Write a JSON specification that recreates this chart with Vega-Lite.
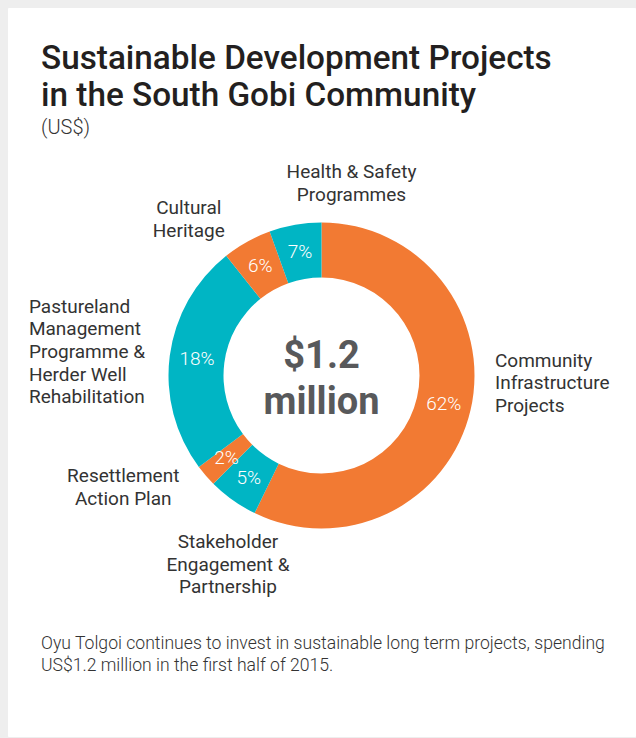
{
  "$schema": "https://vega.github.io/schema/vega-lite/v6.json",
  "background": "#eeeeee",
  "padding": {"left": 7, "top": 7, "right": 2, "bottom": 3},
  "spacing": 0,
  "bounds": "flush",
  "config": {"view": {"stroke": "#ffffff", "strokeWidth": 1, "fill": "#ffffff"}, "font": "Roboto", "concat": {"spacing": 0}},
  "vconcat": [
    {
      "width": 627,
      "height": 143,
      "view": {"fill": "#ffffff", "stroke": "#ffffff", "strokeWidth": 1},
      "data": {"values": []},
      "mark": "point",
      "title": {
        "text": ["Sustainable Development Projects", "in the South Gobi Community"],
        "subtitle": "(US$)",
        "anchor": "start",
        "frame": "group",
        "orient": "top",
        "offset": -131,
        "dx": 33,
        "font": "Roboto",
        "fontSize": 33.3,
        "fontWeight": 500,
        "color": "#231f20",
        "lineHeight": 37,
        "subtitleFont": "Roboto",
        "subtitleFontSize": 20,
        "subtitleFontWeight": 300,
        "subtitleColor": "#333333",
        "subtitlePadding": 5
      }
    },
    {
      "width": 627,
      "height": 449,
      "view": {"fill": "#ffffff", "stroke": "#ffffff", "strokeWidth": 1},
      "data": {
        "values": [
          {"idx": 1, "category": "Community Infrastructure Projects", "value": 57.2, "pct": "62%", "label": "Community\nInfrastructure\nProjects"},
          {"idx": 2, "category": "Stakeholder Engagement & Partnership", "value": 5.3, "pct": "5%", "label": "Stakeholder\nEngagement &\nPartnership"},
          {"idx": 3, "category": "Resettlement Action Plan", "value": 2.3, "pct": "2%", "label": "Resettlement\nAction Plan"},
          {"idx": 4, "category": "Pastureland Management Programme & Herder Well Rehabilitation", "value": 24.5, "pct": "18%", "label": "Pastureland\nManagement\nProgramme &\nHerder Well\nRehabilitation"},
          {"idx": 5, "category": "Cultural Heritage", "value": 5.2, "pct": "6%", "label": "Cultural\nHeritage"},
          {"idx": 6, "category": "Health & Safety Programmes", "value": 5.5, "pct": "7%", "label": "Health & Safety\nProgrammes"}
        ]
      },
      "layer": [
        {
          "mark": {"type": "arc", "outerRadius": 153, "innerRadius": 98},
          "encoding": {
            "theta": {"field": "value", "type": "quantitative", "stack": true},
            "order": {"field": "idx", "type": "quantitative"},
            "color": {
              "field": "category",
              "type": "nominal",
              "legend": null,
              "scale": {
                "domain": ["Community Infrastructure Projects", "Stakeholder Engagement & Partnership", "Resettlement Action Plan", "Pastureland Management Programme & Herder Well Rehabilitation", "Cultural Heritage", "Health & Safety Programmes"],
                "range": ["#f27a33", "#00b5c4", "#f27a33", "#00b5c4", "#f27a33", "#00b5c4"]
              }
            }
          }
        },
        {
          "mark": {"type": "text", "radius": 125.5, "fill": "#ffffff", "fontSize": 19, "fontWeight": 300, "baseline": "middle"},
          "encoding": {
            "theta": {"field": "value", "type": "quantitative", "stack": true},
            "order": {"field": "idx", "type": "quantitative"},
            "detail": {"field": "category", "type": "nominal"},
            "text": {"field": "pct", "type": "nominal"}
          }
        },
        {
          "mark": {"type": "text", "radius": 178, "align": "left", "baseline": "middle", "dx": 0, "dy": -54.6, "fontSize": 19, "fill": "#333333", "lineBreak": "\n", "lineHeight": 22.6},
          "encoding": {
            "theta": {"field": "value", "type": "quantitative", "stack": true},
            "order": {"field": "idx", "type": "quantitative"},
            "detail": {"field": "category", "type": "nominal"},
            "text": {"condition": {"test": "datum.idx === 1", "field": "label", "type": "nominal"}, "value": ""}
          }
        },
        {
          "mark": {"type": "text", "radius": 225, "align": "center", "baseline": "middle", "dx": 37, "dy": -16.6, "fontSize": 19, "fill": "#333333", "lineBreak": "\n", "lineHeight": 22.6},
          "encoding": {
            "theta": {"field": "value", "type": "quantitative", "stack": true},
            "order": {"field": "idx", "type": "quantitative"},
            "detail": {"field": "category", "type": "nominal"},
            "text": {"condition": {"test": "datum.idx === 2", "field": "label", "type": "nominal"}, "value": ""}
          }
        },
        {
          "mark": {"type": "text", "radius": 200, "align": "center", "baseline": "middle", "dx": -47, "dy": -30.3, "fontSize": 19, "fill": "#333333", "lineBreak": "\n", "lineHeight": 22.6},
          "encoding": {
            "theta": {"field": "value", "type": "quantitative", "stack": true},
            "order": {"field": "idx", "type": "quantitative"},
            "detail": {"field": "category", "type": "nominal"},
            "text": {"condition": {"test": "datum.idx === 3", "field": "label", "type": "nominal"}, "value": ""}
          }
        },
        {
          "mark": {"type": "text", "radius": 175, "align": "left", "baseline": "middle", "dx": -119, "dy": -46.2, "fontSize": 19, "fill": "#333333", "lineBreak": "\n", "lineHeight": 22.6},
          "encoding": {
            "theta": {"field": "value", "type": "quantitative", "stack": true},
            "order": {"field": "idx", "type": "quantitative"},
            "detail": {"field": "category", "type": "nominal"},
            "text": {"condition": {"test": "datum.idx === 4", "field": "label", "type": "nominal"}, "value": ""}
          }
        },
        {
          "mark": {"type": "text", "radius": 180, "align": "center", "baseline": "middle", "dx": -45, "dy": -10.3, "fontSize": 19, "fill": "#333333", "lineBreak": "\n", "lineHeight": 22.6},
          "encoding": {
            "theta": {"field": "value", "type": "quantitative", "stack": true},
            "order": {"field": "idx", "type": "quantitative"},
            "detail": {"field": "category", "type": "nominal"},
            "text": {"condition": {"test": "datum.idx === 5", "field": "label", "type": "nominal"}, "value": ""}
          }
        },
        {
          "mark": {"type": "text", "radius": 195, "align": "center", "baseline": "middle", "dx": 63.5, "dy": -11.3, "fontSize": 19, "fill": "#333333", "lineBreak": "\n", "lineHeight": 22.6},
          "encoding": {
            "theta": {"field": "value", "type": "quantitative", "stack": true},
            "order": {"field": "idx", "type": "quantitative"},
            "detail": {"field": "category", "type": "nominal"},
            "text": {"condition": {"test": "datum.idx === 6", "field": "label", "type": "nominal"}, "value": ""}
          }
        },
        {
          "data": {"values": [{"total": "$1.2\nmillion"}]},
          "mark": {"type": "text", "fontSize": 38, "fontWeight": "bold", "fill": "#58595b", "lineBreak": "\n", "lineHeight": 46, "baseline": "middle", "dy": -18.9},
          "encoding": {"text": {"field": "total", "type": "nominal"}}
        }
      ]
    },
    {
      "width": 627,
      "height": 136,
      "view": {"fill": "#ffffff", "stroke": "#ffffff", "strokeWidth": 1},
      "data": {"values": []},
      "mark": "point",
      "title": {
        "text": ["Oyu Tolgoi continues to invest in sustainable long term projects, spending", "US$1.2 million in the first half of 2015."],
        "anchor": "start",
        "frame": "group",
        "orient": "top",
        "offset": -75,
        "dx": 33,
        "font": "Roboto",
        "fontSize": 17.6,
        "fontWeight": 300,
        "color": "#333333",
        "lineHeight": 22
      }
    }
  ]
}
